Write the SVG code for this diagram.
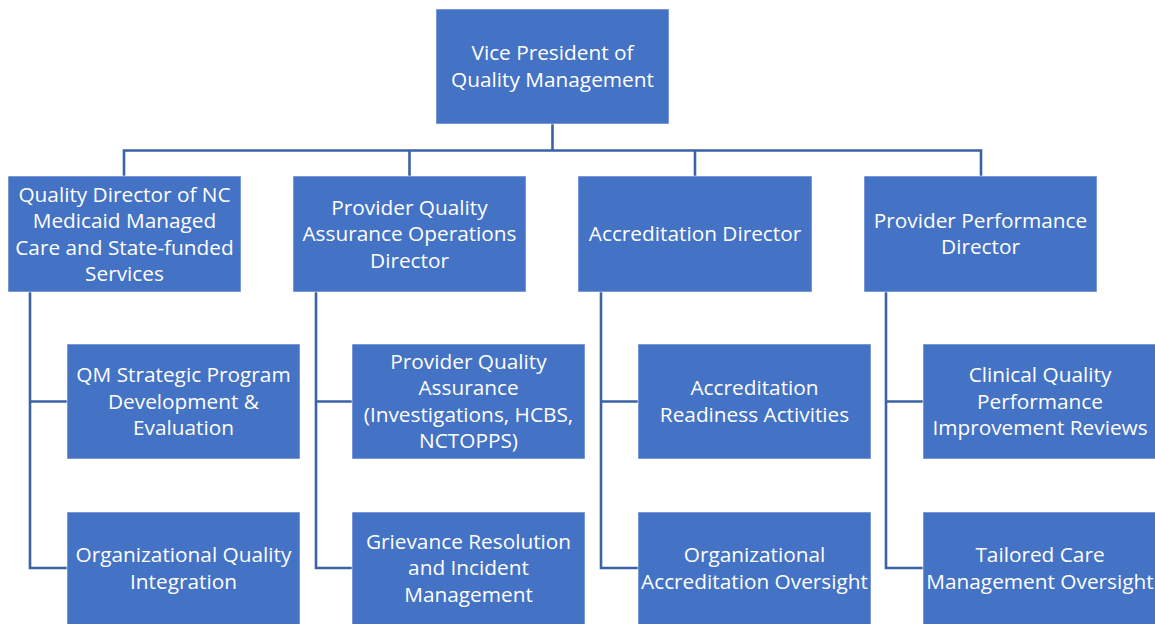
<svg xmlns="http://www.w3.org/2000/svg" width="1155" height="624" viewBox="0 0 1155 624">
<style>
.box{fill:#4472C4;stroke:#FFFFFF;stroke-opacity:0.55;stroke-width:1}
.t{font-family:"Open Sans","Liberation Sans",sans-serif;font-size:20.8px;fill:#FFFFFF;text-anchor:middle}
.c{fill:none;stroke:#3B62A4;stroke-width:2.6}
</style>
<rect width="1155" height="624" fill="#FFFFFF"/>
<g id="connectors">
<path class="c" d="M552.5 124V150.5M124 176V150.5H981V176M409.5 150.5V176M695 150.5V176"/>
<path class="c" d="M30 292V568H67M30 401.5H67"/>
<path class="c" d="M316 292V568H352M316 401.5H352"/>
<path class="c" d="M601 292V568H638M601 401.5H638"/>
<path class="c" d="M886 292V568H923M886 401.5H923"/>
</g>
<g id="vp">
<rect class="box" x="436" y="9" width="233" height="115"/>
<text class="t" x="552.5" y="60">Vice President of</text>
<text class="t" x="552.5" y="86.5">Quality Management</text>
</g>
<g id="qd">
<rect class="box" x="8" y="176" width="233" height="116"/>
<text class="t" x="124.5" y="201.5">Quality Director of NC</text>
<text class="t" x="124.5" y="228">Medicaid Managed</text>
<text class="t" x="124.5" y="254.5">Care and State-funded</text>
<text class="t" x="124.5" y="281">Services</text>
</g>
<g id="pqa">
<rect class="box" x="293" y="176" width="233" height="116"/>
<text class="t" x="409.5" y="214.5">Provider Quality</text>
<text class="t" x="409.5" y="241">Assurance Operations</text>
<text class="t" x="409.5" y="267.5">Director</text>
</g>
<g id="ad">
<rect class="box" x="578" y="176" width="234" height="116"/>
<text class="t" x="695" y="241">Accreditation Director</text>
</g>
<g id="ppd">
<rect class="box" x="864" y="176" width="233" height="116"/>
<text class="t" x="980.5" y="227.5">Provider Performance</text>
<text class="t" x="980.5" y="254">Director</text>
</g>
<g id="qm">
<rect class="box" x="67" y="344" width="233" height="115"/>
<text class="t" x="183.5" y="382">QM Strategic Program</text>
<text class="t" x="183.5" y="408.5">Development &amp;</text>
<text class="t" x="183.5" y="435">Evaluation</text>
</g>
<g id="oqi">
<rect class="box" x="67" y="512" width="233" height="116"/>
<text class="t" x="183.5" y="562">Organizational Quality</text>
<text class="t" x="183.5" y="588.5">Integration</text>
</g>
<g id="pq">
<rect class="box" x="352" y="344" width="233" height="115"/>
<text class="t" x="468.5" y="368.5">Provider Quality</text>
<text class="t" x="468.5" y="395">Assurance</text>
<text class="t" x="468.5" y="421.5">(Investigations, HCBS,</text>
<text class="t" x="468.5" y="448">NCTOPPS)</text>
</g>
<g id="gr">
<rect class="box" x="352" y="512" width="233" height="116"/>
<text class="t" x="468.5" y="548.5">Grievance Resolution</text>
<text class="t" x="468.5" y="575">and Incident</text>
<text class="t" x="468.5" y="601.5">Management</text>
</g>
<g id="ar">
<rect class="box" x="638" y="344" width="233" height="115"/>
<text class="t" x="754.5" y="395">Accreditation</text>
<text class="t" x="754.5" y="421.5">Readiness Activities</text>
</g>
<g id="oa">
<rect class="box" x="638" y="512" width="233" height="116"/>
<text class="t" x="754.5" y="562">Organizational</text>
<text class="t" x="754.5" y="588.5">Accreditation Oversight</text>
</g>
<g id="cq">
<rect class="box" x="923" y="344" width="234" height="115"/>
<text class="t" x="1040" y="382">Clinical Quality</text>
<text class="t" x="1040" y="408.5">Performance</text>
<text class="t" x="1040" y="435">Improvement Reviews</text>
</g>
<g id="tc">
<rect class="box" x="923" y="512" width="234" height="116"/>
<text class="t" x="1040" y="562">Tailored Care</text>
<text class="t" x="1040" y="588.5">Management Oversight</text>
</g>
</svg>
